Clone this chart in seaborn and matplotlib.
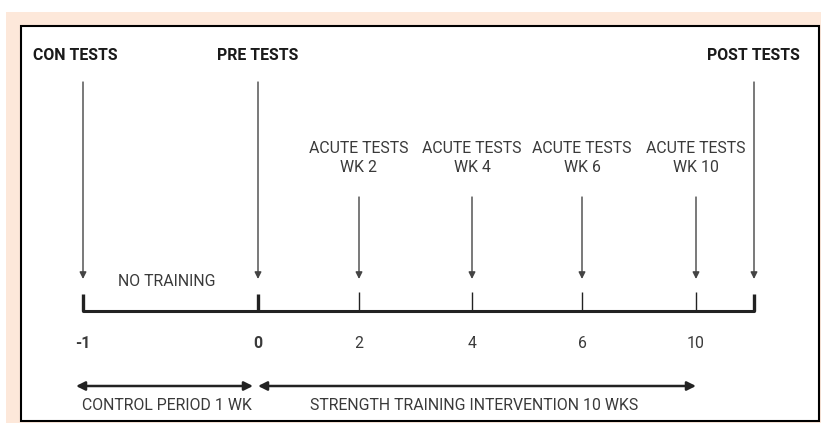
import matplotlib
matplotlib.use("Agg")
import matplotlib.pyplot as plt
from matplotlib.patches import Rectangle
import seaborn as sns

sns.set_theme(style="white")
plt.rcParams["font.family"] = ["Roboto", "DejaVu Sans"]

# timeline content
week_labels = ["-1", "0", "2", "4", "6", "10"]
week_bold = [True, True, False, False, False, False]
main_tests = ["CON TESTS", "PRE TESTS", "POST TESTS"]
acute_tests = ["ACUTE TESTS\nWK 2", "ACUTE TESTS\nWK 4", "ACUTE TESTS\nWK 6", "ACUTE TESTS\nWK 10"]
periods = ["CONTROL PERIOD 1 WK", "STRENGTH TRAINING INTERVENTION 10 WKS"]
gap_label = "NO TRAINING"

# layout (pixel space of the canvas)
week_x = [83, 258, 359, 472, 582, 696]
post_x = 754
base_y = 311
main_x = [83, 258, post_x]
main_label_x = [75, 258, 753]
acute_x = week_x[2:]
period_spans = [(76, 253), (258, 696)]
period_label_x = [167, 474]

fig = plt.figure(figsize=(8.21, 4.23), dpi=100)
ax = fig.add_axes([0, 0, 1, 1])
ax.set_xlim(0, 821)
ax.set_ylim(423, 0)
ax.axis("off")

# background + frame
ax.add_patch(Rectangle((6, 12), 815, 411, facecolor="#fde8da", edgecolor="none", zorder=0))
ax.add_patch(Rectangle((21, 26), 798, 395.5, facecolor="white", edgecolor="black",
                       linewidth=1.5, zorder=1))

dark = "#222222"
txt = "#3a3a3a"
fs = 11.4

# baseline
sns.lineplot(x=[week_x[0], post_x], y=[base_y, base_y], color=dark, linewidth=2.2,
             ax=ax, zorder=3)

# ticks
for i, x in enumerate(week_x + [post_x]):
    thick = i in (0, 1) or x == post_x
    ax.plot([x, x], [base_y, 294 if thick else 292], color=dark,
            linewidth=2.4 if thick else 1.0, solid_capstyle="butt", zorder=3)

for lab, x, b in zip(week_labels, week_x, week_bold):
    ax.text(x, 343, lab, ha="center", va="center", fontsize=fs,
            fontweight="bold" if b else "normal", color=txt, zorder=4)

# main test arrows
for lab, x, lx in zip(main_tests, main_x, main_label_x):
    ax.text(lx, 56, lab, ha="center", va="center", fontsize=fs, fontweight="bold",
            color="#1a1a1a", zorder=4)
    ax.annotate("", xy=(x, 279), xytext=(x, 82),
                arrowprops=dict(arrowstyle="-|>", color="#444444", lw=1.0,
                                mutation_scale=10, shrinkA=0, shrinkB=0), zorder=4)

# acute test arrows
for lab, x in zip(acute_tests, acute_x):
    ax.text(x, 158, lab, ha="center", va="center", fontsize=fs, color=txt,
            linespacing=1.3, zorder=4)
    ax.annotate("", xy=(x, 279), xytext=(x, 197),
                arrowprops=dict(arrowstyle="-|>", color="#444444", lw=1.0,
                                mutation_scale=10, shrinkA=0, shrinkB=0), zorder=4)

ax.text(167, 282, gap_label, ha="center", va="center", fontsize=fs, color=txt, zorder=4)

# period double arrows
for lab, (x0, x1), cx in zip(periods, period_spans, period_label_x):
    ax.annotate("", xy=(x1, 386), xytext=(x0, 386),
                arrowprops=dict(arrowstyle="<|-|>", color=dark, lw=1.8,
                                mutation_scale=13, shrinkA=0, shrinkB=0), zorder=4)
    ax.text(cx, 405, lab, ha="center", va="center", fontsize=fs, color=txt, zorder=4)

fig.savefig("out.png", dpi=100)
